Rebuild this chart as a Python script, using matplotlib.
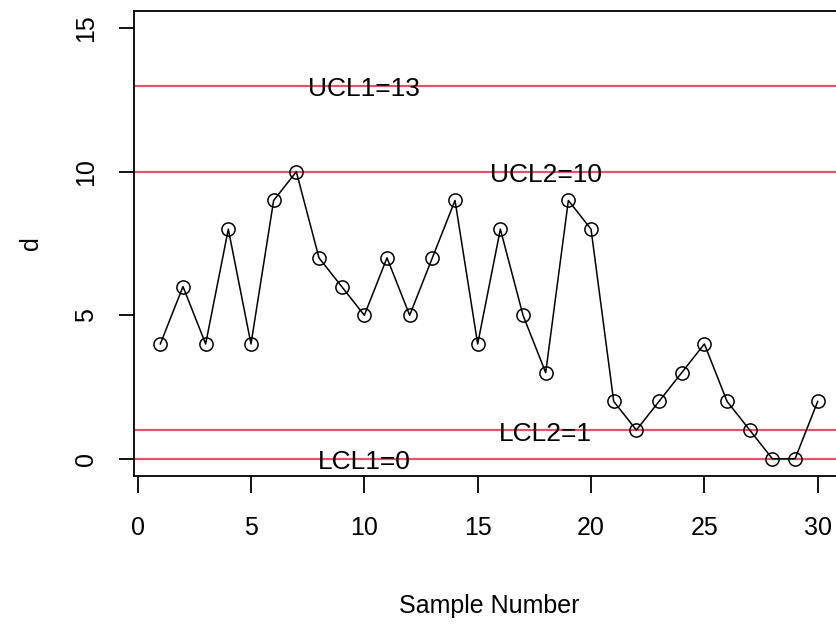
import matplotlib
matplotlib.use("Agg")
import matplotlib.pyplot as plt

plt.rcParams['font.family'] = ['Liberation Sans', 'DejaVu Sans']

# число дефектних виробів у кожній вибірці
samples = list(range(1, 31))
d = [4, 6, 4, 8, 4, 9, 10, 7, 6, 5, 7, 5, 7, 9, 4,
     8, 5, 3, 9, 8, 2, 1, 2, 3, 4, 2, 1, 0, 0, 2]

limit_values = [13, 10, 1, 0]
limit_labels = ["UCL1=13", "UCL2=10", "LCL2=1", "LCL1=0"]
limit_label_x = [10, 18, 18, 10]

red = '#DF536B'
fs = 19

fig = plt.figure(figsize=(8.36, 6.25), dpi=100)
ax = fig.add_axes([0.1603, 0.2384, 0.8493, 0.744])

for v in limit_values:
    ax.axhline(v, color=red, lw=1.6, zorder=1)

ax.plot(samples, d, color='black', lw=1.1, marker='o', ms=9.5,
        mfc='none', mec='black', mew=1.1, zorder=3)

for v, lab, x in zip(limit_values, limit_labels, limit_label_x):
    ax.text(x, v - 0.12, lab, ha='center', va='center', fontsize=fs, zorder=4)

ax.set_xlim(-0.16, 31.16)
ax.set_ylim(-0.6, 15.6)
ax.set_xticks([0, 5, 10, 15, 20, 25, 30])
ax.set_yticks([0, 5, 10, 15])
ax.set_yticklabels(['0', '5', '10', '15'], rotation=90, va='center')

ax.spines['right'].set_visible(False)
for s in ['left', 'top', 'bottom']:
    ax.spines[s].set_linewidth(1.3)

ax.tick_params(axis='x', direction='out', length=12, width=1.3, pad=17, labelsize=fs - 1)
ax.tick_params(axis='y', direction='out', length=11, width=1.3, pad=15, labelsize=fs - 1)

ax.set_xlabel('Sample Number', fontsize=fs - 1, labelpad=39)
ax.set_ylabel('d', fontsize=fs - 1, labelpad=22)

fig.savefig('out.png', dpi=100)
